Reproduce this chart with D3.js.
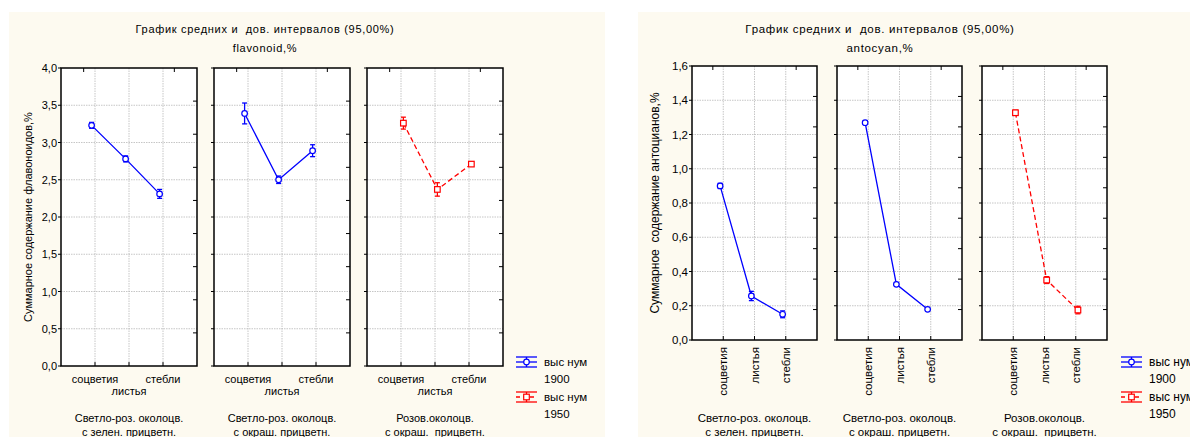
<!DOCTYPE html>
<html>
<head>
<meta charset="utf-8">
<script src="https://cdn.jsdelivr.net/npm/d3@7"></script>
<style>
  html, body { margin: 0; padding: 0; background: #fff; }
  svg { display: block; font-family: "Liberation Sans", Arial, sans-serif; }
  svg text { white-space: pre; }
</style>
</head>
<body>
<svg id="chart" width="1190" height="437"></svg>
<script>
// categories
const parts = ['соцветия', 'листья', 'стебли'];
const groupLine1 = ['Светло-роз. околоцв.', 'Светло-роз. околоцв.', 'Розов.околоцв.'];
const groupLine2 = ['с зелен. прицветн.', 'с окраш. прицветн.', 'с окраш.  прицветн.'];
const groupSeries = [0, 0, 1]; // which series each panel shows
const seriesNames = ['1900', '1950'];

// flavonoid, %
const flavMean = [[3.23, 2.78, 2.31], [3.39, 2.50, 2.89], [3.26, 2.37, 2.71]];
const flavCi = [[0.04, 0.04, 0.06], [0.14, 0.05, 0.08], [0.08, 0.09, 0.03]];
const flavTicks = [0, 0.5, 1, 1.5, 2, 2.5, 3, 3.5, 4];

// antocyan, %
const antoMean = [[0.90, 0.257, 0.15], [1.269, 0.325, 0.179], [1.327, 0.35, 0.175]];
const antoCi = [[0.015, 0.027, 0.02], [0.008, 0.008, 0.008], [0.015, 0.02, 0.022]];
const antoTicks = [0, 0.2, 0.4, 0.6, 0.8, 1.0, 1.2, 1.4, 1.6];

const seriesColor = ['#0000ff', '#ff0000'];
const seriesShift = [-0.1, 0.07];

const svg = d3.select('#chart');
const fmt = v => d3.format('.1f')(v).replace('.', ',');

function drawChart(cfg) {
  const g = svg.append('g');

  g.append('rect')
    .attr('x', cfg.bg[0]).attr('y', cfg.bg[1])
    .attr('width', cfg.bg[2]).attr('height', cfg.bg[3])
    .attr('fill', '#fdfaf0');

  g.append('text')
    .attr('x', cfg.titleX).attr('y', 33)
    .attr('text-anchor', 'middle').attr('font-size', cfg.fs)
    .attr('letter-spacing', 0.7)
    .text('График средних и  дов. интервалов (95,00%)');
  g.append('text')
    .attr('x', cfg.titleX).attr('y', 52)
    .attr('text-anchor', 'middle').attr('font-size', cfg.fs)
    .attr('letter-spacing', 0.7)
    .text(cfg.subtitle);

  const y = d3.scaleLinear().domain([cfg.ticks[0], cfg.ticks[cfg.ticks.length - 1]])
    .range([cfg.bottom, cfg.top]);

  // y axis label
  g.append('text')
    .attr('transform', `translate(${cfg.ylabX},${(cfg.top + cfg.bottom) / 2}) rotate(-90)`)
    .attr('text-anchor', 'middle').attr('font-size', cfg.ylabFs)
    .text(cfg.ylabel);

  // tick labels on first panel
  g.append('g').selectAll('text')
    .data(cfg.ticks)
    .join('text')
    .attr('x', cfg.panelX[0] - 4)
    .attr('y', d => y(d) + 4)
    .attr('text-anchor', 'end').attr('font-size', cfg.fs)
    .text(fmt);

  cfg.panelX.forEach((px, i) => {
    const x = d3.scaleLinear().domain([0, 4]).range([px, px + cfg.panelW]);
    const pg = g.append('g');
    pg.append('rect')
      .attr('x', px).attr('y', cfg.top)
      .attr('width', cfg.panelW).attr('height', cfg.bottom - cfg.top)
      .attr('fill', '#fff');

    // grid
    pg.append('g').selectAll('line')
      .data(cfg.ticks.slice(1, -1))
      .join('line')
      .attr('x1', px).attr('x2', px + cfg.panelW)
      .attr('y1', d => y(d)).attr('y2', d => y(d))
      .attr('stroke', '#b8b8b8').attr('stroke-width', 0.8).attr('stroke-dasharray', '1.5,1');
    pg.append('g').selectAll('line')
      .data([1, 2, 3])
      .join('line')
      .attr('x1', d => x(d)).attr('x2', d => x(d))
      .attr('y1', cfg.top).attr('y2', cfg.bottom)
      .attr('stroke', '#b8b8b8').attr('stroke-width', 0.8).attr('stroke-dasharray', '1.5,1');

    // ticks: left outward, right inward (finer division), bottom at categories, top minor
    pg.append('g').selectAll('line')
      .data(cfg.ticks)
      .join('line')
      .attr('x1', px - 3).attr('x2', px)
      .attr('y1', d => y(d)).attr('y2', d => y(d))
      .attr('stroke', '#000');
    const rightY = d3.range(1, 9).map(k => cfg.bottom - k * (cfg.bottom - cfg.top) / 9);
    pg.append('g').selectAll('line')
      .data(rightY)
      .join('line')
      .attr('x1', px + cfg.panelW - 4).attr('x2', px + cfg.panelW)
      .attr('y1', d => d).attr('y2', d => d)
      .attr('stroke', '#000');
    pg.append('g').selectAll('line')
      .data([1, 2, 3])
      .join('line')
      .attr('x1', d => x(d)).attr('x2', d => x(d))
      .attr('y1', cfg.bottom - 4).attr('y2', cfg.bottom)
      .attr('stroke', '#000');
    pg.append('g').selectAll('line')
      .data([2 / 3, 10 / 3])
      .join('line')
      .attr('x1', d => x(d)).attr('x2', d => x(d))
      .attr('y1', cfg.top).attr('y2', cfg.top + 4)
      .attr('stroke', '#000');

    pg.append('rect')
      .attr('x', px).attr('y', cfg.top)
      .attr('width', cfg.panelW).attr('height', cfg.bottom - cfg.top)
      .attr('fill', 'none').attr('stroke', '#000').attr('stroke-width', 1.5);

    // series data
    const s = groupSeries[i];
    const col = seriesColor[s];
    const pts = cfg.mean[i].map((m, j) => ({ x: x(j + 1 + seriesShift[s]), m, ci: cfg.ci[i][j] }));

    pg.append('path')
      .datum(pts)
      .attr('d', d3.line().x(d => d.x).y(d => y(d.m)))
      .attr('fill', 'none').attr('stroke', col).attr('stroke-width', 1.3)
      .attr('stroke-dasharray', s === 1 ? '5,3' : null);

    const eb = pg.append('g').selectAll('g').data(pts).join('g');
    eb.append('line')
      .attr('x1', d => d.x).attr('x2', d => d.x)
      .attr('y1', d => y(d.m - d.ci)).attr('y2', d => y(d.m + d.ci))
      .attr('stroke', col).attr('stroke-width', 1.3);
    eb.append('line')
      .attr('x1', d => d.x - 2.5).attr('x2', d => d.x + 2.5)
      .attr('y1', d => y(d.m + d.ci)).attr('y2', d => y(d.m + d.ci))
      .attr('stroke', col).attr('stroke-width', 1.3);
    eb.append('line')
      .attr('x1', d => d.x - 2.5).attr('x2', d => d.x + 2.5)
      .attr('y1', d => y(d.m - d.ci)).attr('y2', d => y(d.m - d.ci))
      .attr('stroke', col).attr('stroke-width', 1.3);
    if (s === 0) {
      eb.append('circle')
        .attr('cx', d => d.x).attr('cy', d => y(d.m)).attr('r', 2.8)
        .attr('fill', '#fff').attr('stroke', col).attr('stroke-width', 1.2);
    } else {
      eb.append('rect')
        .attr('x', d => d.x - 2.8).attr('y', d => y(d.m) - 2.8)
        .attr('width', 5.6).attr('height', 5.6)
        .attr('fill', '#fff').attr('stroke', col).attr('stroke-width', 1.2);
    }

    // category labels
    if (cfg.rotated) {
      pg.append('g').selectAll('text')
        .data(parts)
        .join('text')
        .attr('transform', (d, j) => `translate(${x(j + 1) + 4},${cfg.bottom + 7}) rotate(-90)`)
        .attr('text-anchor', 'end').attr('font-size', cfg.fs)
        .text(d => d);
    } else {
      pg.append('g').selectAll('text')
        .data(parts)
        .join('text')
        .attr('x', (d, j) => x(j + 1))
        .attr('y', (d, j) => cfg.bottom + (j === 1 ? 29 : 17))
        .attr('text-anchor', 'middle').attr('font-size', cfg.fs)
        .text(d => d);
    }
    pg.append('text')
      .attr('x', px + cfg.panelW / 2).attr('y', 422)
      .attr('text-anchor', 'middle').attr('font-size', cfg.fs)
      .text(groupLine1[i]);
    pg.append('text')
      .attr('x', px + cfg.panelW / 2).attr('y', 436)
      .attr('text-anchor', 'middle').attr('font-size', cfg.fs)
      .text(groupLine2[i]);
  });

  // legend
  const lg = g.append('g');
  seriesNames.forEach((name, k) => {
    const cy = 362 + k * 35;
    const x0 = cfg.legX, x1 = cfg.legX + 21, xc = (x0 + x1) / 2;
    const col = seriesColor[k];
    [cy - 5, cy + 5].forEach(yy => lg.append('line')
      .attr('x1', x0).attr('x2', x1).attr('y1', yy).attr('y2', yy)
      .attr('stroke', col).attr('stroke-width', 1.3));
    lg.append('line')
      .attr('x1', x0).attr('x2', x1).attr('y1', cy).attr('y2', cy)
      .attr('stroke', col).attr('stroke-width', 1.3)
      .attr('stroke-dasharray', k === 1 ? '4,3' : null);
    lg.append('line')
      .attr('x1', xc).attr('x2', xc).attr('y1', cy - 5).attr('y2', cy + 5)
      .attr('stroke', col).attr('stroke-width', 1.3);
    if (k === 0) {
      lg.append('circle').attr('cx', xc).attr('cy', cy).attr('r', 2.8)
        .attr('fill', '#fff').attr('stroke', col).attr('stroke-width', 1.2);
    } else {
      lg.append('rect').attr('x', xc - 2.8).attr('y', cy - 2.8)
        .attr('width', 5.6).attr('height', 5.6)
        .attr('fill', '#fff').attr('stroke', col).attr('stroke-width', 1.2);
    }
    lg.append('text')
      .attr('x', x1 + 7).attr('y', cy + 4)
      .attr('font-size', cfg.fs + 0.5)
      .text('выс нум');
    lg.append('text')
      .attr('x', x1 + 7).attr('y', cy + 21)
      .attr('font-size', cfg.fs + 0.5)
      .text(name);
  });
}

drawChart({
  bg: [9, 12, 596, 425],
  titleX: 265, subtitle: 'flavonoid,%',
  ylabel: 'Суммарное содержание флавоноидов,%', ylabX: 32, ylabFs: 11,
  ticks: flavTicks, mean: flavMean, ci: flavCi,
  panelX: [61, 214, 367], panelW: 136, top: 68, bottom: 366,
  legX: 516, rotated: false, fs: 11
});

drawChart({
  bg: [638, 12, 552, 425],
  titleX: 880, subtitle: 'antocyan,%',
  ylabel: 'Суммарное  содержание антоцианов,%', ylabX: 659, ylabFs: 12,
  ticks: antoTicks, mean: antoMean, ci: antoCi,
  panelX: [692, 837, 982], panelW: 125, top: 66, bottom: 340,
  legX: 1121, rotated: true, fs: 11.5
});
</script>
</body>
</html>
